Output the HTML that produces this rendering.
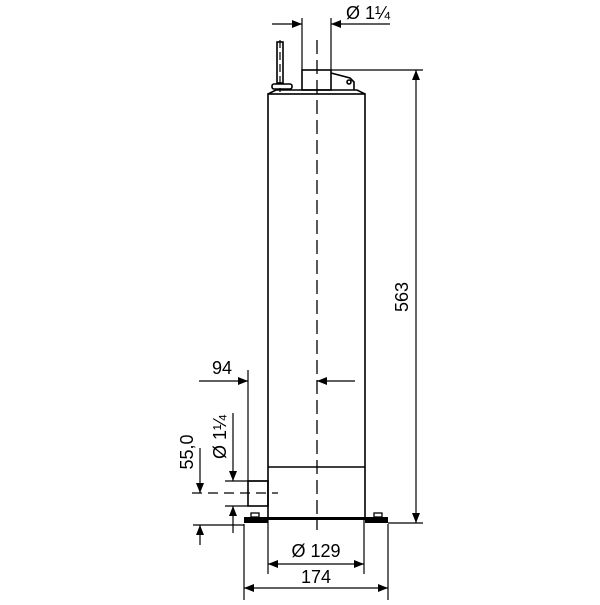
<!DOCTYPE html>
<html><head><style>body{margin:0;background:#fff}</style></head><body>
<svg width="600" height="600" viewBox="0 0 600 600" xmlns="http://www.w3.org/2000/svg" font-family="Liberation Sans, sans-serif" font-size="18" fill="none" stroke="#000">
<defs><marker id="a" markerWidth="10" markerHeight="8" refX="10" refY="4" orient="auto-start-reverse" markerUnits="userSpaceOnUse"><path d="M0,0L10,4L0,8z" fill="#000" stroke="none"/></marker></defs>
<g stroke-width="1.6">
<rect x="268" y="94" width="97" height="424"/>
<line x1="268" y1="467" x2="365" y2="467"/>
<path d="M268,94 L276,90 L357,90 L365,94"/>
<rect x="302" y="70" width="29" height="20"/>
<path d="M331,73 L350,78 L354,82 L354,90"/>
<circle cx="349" cy="82" r="2"/>
<rect x="277" y="42" width="6" height="41"/>
<rect x="272" y="84" width="20" height="5" rx="2"/>
<rect x="248" y="481" width="20" height="25"/>
</g>
<rect x="244" y="517" width="144" height="3" fill="#000" stroke="none"/>
<rect x="244" y="517" width="24" height="6" fill="#000" stroke="none"/>
<rect x="365" y="517" width="23" height="6" fill="#000" stroke="none"/>
<rect x="251" y="513" width="8" height="4" stroke-width="1.3"/>
<rect x="374" y="513" width="8" height="4" stroke-width="1.3"/>
<line x1="317" y1="40" x2="317" y2="530" stroke-width="1.3" stroke-dasharray="14,6"/>
<line x1="280" y1="40" x2="280" y2="92" stroke-width="1.2" stroke-dasharray="8,4"/>
<line x1="192" y1="493" x2="278" y2="493" stroke-width="1.2" stroke-dasharray="10,6"/>
<g stroke-width="1.2">
<line x1="302" y1="18" x2="302" y2="70"/><line x1="331" y1="18" x2="331" y2="70"/>
<line x1="272" y1="24" x2="302" y2="24" marker-end="url(#a)"/>
<line x1="390" y1="24" x2="331" y2="24" marker-end="url(#a)"/>
<line x1="331" y1="70" x2="423" y2="70"/><line x1="388" y1="523" x2="423" y2="523"/>
<line x1="416" y1="70" x2="416" y2="523" marker-start="url(#a)" marker-end="url(#a)"/>
<line x1="248" y1="370" x2="248" y2="481"/>
<line x1="199" y1="381" x2="248" y2="381" marker-end="url(#a)"/>
<line x1="355" y1="381" x2="317" y2="381" marker-end="url(#a)"/>
<line x1="225" y1="481" x2="268" y2="481"/><line x1="225" y1="506" x2="248" y2="506"/>
<line x1="233" y1="413" x2="233" y2="481" marker-end="url(#a)"/>
<line x1="233" y1="533" x2="233" y2="506" marker-end="url(#a)"/>
<line x1="193" y1="525" x2="244" y2="525"/>
<line x1="200" y1="448" x2="200" y2="493" marker-end="url(#a)"/>
<line x1="200" y1="545" x2="200" y2="525" marker-end="url(#a)"/>
<line x1="268" y1="520" x2="268" y2="574"/><line x1="364" y1="520" x2="364" y2="574"/>
<line x1="268" y1="564" x2="364" y2="564" marker-start="url(#a)" marker-end="url(#a)"/>
<line x1="244" y1="524" x2="244" y2="600"/><line x1="388" y1="524" x2="388" y2="600"/>
<line x1="244" y1="588" x2="388" y2="588" marker-start="url(#a)" marker-end="url(#a)"/>
</g>
<g fill="#000" stroke="none">
<text x="346" y="19">Ø 1¼</text>
<text x="408" y="297" text-anchor="middle" transform="rotate(-90 408 297)">563</text>
<text x="222" y="374" text-anchor="middle">94</text>
<text x="226" y="437" text-anchor="middle" transform="rotate(-90 226 437)">Ø 1¼</text>
<text x="193" y="452" text-anchor="middle" transform="rotate(-90 193 452)">55,0</text>
<text x="316" y="557" text-anchor="middle">Ø 129</text>
<text x="316" y="583" text-anchor="middle">174</text>
</g>
</svg>
</body></html>
